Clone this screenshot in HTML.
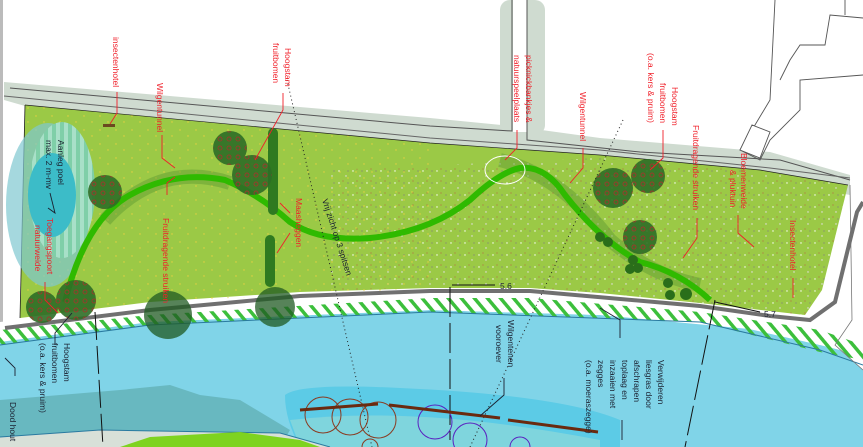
<!DOCTYPE html>
<html><head><meta charset="utf-8"><style>
html,body{margin:0;padding:0;background:#fff;}
svg{display:block}
text{font-family:"Liberation Sans",sans-serif;font-size:8.5px}
.r{fill:#f0202a}
.k{fill:#1a2030}
</style></head><body>
<svg width="863" height="447" viewBox="0 0 863 447" xmlns="http://www.w3.org/2000/svg">
<defs>
<pattern id="dots" width="14" height="12" patternUnits="userSpaceOnUse">
<circle cx="3" cy="3" r="0.7" fill="#fff"/><circle cx="10" cy="8" r="0.7" fill="#e8e0f0"/><circle cx="7" cy="1" r="0.5" fill="#c04040"/><circle cx="12" cy="3" r="0.5" fill="#7050a0"/>
</pattern>
<pattern id="ydots" width="16" height="14" patternUnits="userSpaceOnUse">
<circle cx="4" cy="4" r="0.7" fill="#e8d040"/><circle cx="12" cy="10" r="0.7" fill="#e8d040"/>
</pattern>
<pattern id="hatch" width="10" height="10" patternUnits="userSpaceOnUse" patternTransform="rotate(-40)">
<rect width="10" height="10" fill="none"/><rect width="3.5" height="10" fill="#3cbf3c"/>
</pattern>
<pattern id="tdots" width="9" height="9" patternUnits="userSpaceOnUse">
<circle cx="4" cy="4" r="2" fill="none" stroke="#9a3a2a" stroke-width="0.9"/>
</pattern>
<pattern id="pstripe" width="8" height="8" patternUnits="userSpaceOnUse">
<rect width="4" height="8" fill="#a8e0c8"/><rect x="4" width="4" height="8" fill="#7fcfa8"/>
</pattern>
</defs>
<rect width="863" height="447" fill="#fff"/>
<rect x="0" y="0" width="3" height="447" fill="#bbb"/>
<!-- gray verge top -->
<path d="M4,82 L430,118 L512,126 L527,128 L600,138 L770,152 L850,175 L850,195 L760,178 L430,146 L25,106 L4,100Z" fill="#cfdbd0"/>
<rect x="500" y="0" width="45" height="135" rx="10" fill="#cfdbd0"/>
<rect x="513" y="0" width="14" height="132" fill="#fff"/>
<path d="M10,88 L430,126 L512,131 L512,0 M527,0 L527,140 L640,152 L780,160 L850,180" fill="none" stroke="#555" stroke-width="1"/>
<path d="M4,96 L430,138 L600,150 L770,168 L850,178" fill="none" stroke="#666" stroke-width="1"/>
<!-- buildings right -->
<path d="M775,0 L770,100 L740,150 L760,160 L770,140 L800,110 L800,80 L863,75 M780,80 L790,60 L800,45 L825,45 L830,15 L863,18 M845,0 L845,15" fill="none" stroke="#555" stroke-width="0.9"/>
<path d="M740,150 L752,125 L770,132 L760,158Z" fill="#fff" stroke="#555" stroke-width="0.9"/>
<!-- water -->
<path d="M0,335 L150,322 L430,310 L600,315 L760,330 L840,350 L863,370 L863,447 L0,447Z" fill="#80d4e8"/>
<path d="M0,400 L120,390 L170,385 L200,395 L240,400 L290,430 L280,447 L0,447Z" fill="#68b8c0"/>
<path d="M285,395 Q300,383 400,388 Q560,395 620,420 L620,447 L300,447 Q285,420 285,395Z" fill="#5ccbe6"/>
<path d="M290,420 Q420,405 600,440 L600,447 L300,447Z" fill="#8fd8d8" opacity="0.7"/>
<path d="M0,437 L100,430 L280,433 L330,447 L0,447Z" fill="#d8e0d8"/>
<path d="M0,437 L100,430 L280,433 L330,447" fill="none" stroke="#2a7aa0" stroke-width="1"/>
<path d="M120,447 L150,437 L240,432 L300,440 L320,447Z" fill="#7ed320"/>
<!-- shore white band + hatch -->
<path d="M0,322 L150,305 L430,290 L530,292 L700,307 L810,322 L845,310 L863,215 L863,250 L850,310 L820,345 L700,318 L430,310 L150,322 L0,342Z" fill="#fff"/>
<path d="M0,330 L150,315 L430,298 L530,298 L700,312 L820,330 L863,345 L863,360 L820,352 L700,322 L430,312 L150,325 L0,345Z" fill="url(#hatch)"/>
<path d="M0,345 L150,325 L430,312 L700,322 L820,350 L863,365" fill="none" stroke="#2a7aa0" stroke-width="1"/>
<path d="M850,185 L852,320 L835,345 L863,370" fill="none" stroke="#777" stroke-width="0.8"/>
<!-- field -->
<path d="M25,105 L430,143 L600,155 L760,170 L848,185 L822,290 L805,315 L700,303 L600,293 L530,288 L430,288 L300,292 L150,302 L20,318Z" fill="#9bc946"/>
<path d="M330,170 L600,158 L760,172 L848,185 L822,290 L805,315 L700,303 L600,293 L530,288 L430,288 L330,290Z" fill="url(#dots)"/>
<path d="M25,105 L430,143 L430,288 L150,302 L20,318Z" fill="url(#ydots)"/>
<path d="M25,105 L430,143 L600,155 L760,170 L848,185" fill="none" stroke="#222" stroke-width="0.7"/>
<path d="M25,105 L20,318" fill="none" stroke="#222" stroke-width="0.8"/>
<!-- gray path -->
<path d="M5,328 L150,310 L300,296 L430,291 L530,291 L700,306 L770,316 L810,320 L835,302 L857,212 L863,202" fill="none" stroke="#707070" stroke-width="4"/>
<!-- pond -->
<ellipse cx="48" cy="205" rx="42" ry="82" fill="#7fc8d0" opacity="0.7"/>
<ellipse cx="62" cy="190" rx="33" ry="68" fill="url(#pstripe)"/>
<ellipse cx="52" cy="195" rx="24" ry="42" fill="#3cbcc8"/>
<!-- willow tunnels blurred -->
<path d="M105,220 Q160,160 230,183" fill="none" stroke="#5a9a30" stroke-width="14" opacity="0.45"/>
<path d="M500,160 Q560,175 610,240 Q650,275 700,285" fill="none" stroke="#5a9a30" stroke-width="14" opacity="0.45"/>
<!-- green path -->
<path d="M65,302 Q85,220 130,195 Q175,170 225,180 Q260,195 290,222 Q320,242 370,238 Q430,232 470,200 Q500,172 520,168 Q545,165 565,195 Q600,240 640,262 Q680,272 710,300" fill="none" stroke="#2fba00" stroke-width="6"/>
<ellipse cx="505" cy="170" rx="20" ry="14" fill="none" stroke="#fff" stroke-width="1"/>
<!-- hedges -->
<path d="M273,133 L273,210" stroke="#2f7a20" stroke-width="10" stroke-linecap="round"/>
<path d="M270,240 L270,282" stroke="#2f7a20" stroke-width="10" stroke-linecap="round"/>
<!-- trees -->
<g fill="#2e6e26" opacity="0.9">
<circle cx="105" cy="192" r="17"/><circle cx="230" cy="148" r="17"/><circle cx="252" cy="175" r="20"/>
<circle cx="42" cy="307" r="16"/><circle cx="76" cy="300" r="20"/>
<circle cx="613" cy="188" r="20"/><circle cx="648" cy="176" r="17"/><circle cx="640" cy="237" r="17"/>
</g>
<g fill="url(#tdots)">
<circle cx="105" cy="192" r="17"/><circle cx="230" cy="148" r="17"/><circle cx="252" cy="175" r="20"/>
<circle cx="42" cy="307" r="16"/><circle cx="76" cy="300" r="20"/>
<circle cx="613" cy="188" r="20"/><circle cx="648" cy="176" r="17"/><circle cx="640" cy="237" r="17"/>
</g>
<g fill="#1f5a22" opacity="0.75"><circle cx="168" cy="315" r="24"/><circle cx="275" cy="307" r="20"/></g>
<g fill="#2a6e1a"><circle cx="600" cy="237" r="5"/><circle cx="608" cy="242" r="5"/><circle cx="633" cy="260" r="5"/><circle cx="630" cy="269" r="5"/><circle cx="638" cy="268" r="5"/><circle cx="668" cy="283" r="5"/><circle cx="670" cy="295" r="5"/><circle cx="686" cy="294" r="6"/></g>
<rect x="103" y="124" width="12" height="3" fill="#6a4a20"/>
<!-- dashed / dotted lines -->
<path d="M95,312 L103,447" stroke="#111" stroke-width="1" stroke-dasharray="28,6" fill="none"/>
<path d="M450,287 L450,440" stroke="#111" stroke-width="1" stroke-dasharray="30,6" fill="none"/>
<path d="M715,300 L685,447" stroke="#111" stroke-width="1" stroke-dasharray="30,6" fill="none"/>
<path d="M287,80 L372,447" stroke="#222" stroke-width="1" stroke-dasharray="1,3" fill="none"/>
<path d="M623,120 L470,447" stroke="#222" stroke-width="1" stroke-dasharray="1,3" fill="none"/>
<path d="M452,285 L495,285 M715,302 L760,312" stroke="#111" stroke-width="1"/>
<text x="500" y="289" class="k" font-size="8">5.6</text>
<text x="764" y="317" class="k" font-size="8">5.7</text>
<!-- sticks and circles -->
<g fill="none" stroke="#8a3a20" stroke-width="1"><circle cx="323" cy="415" r="18"/><circle cx="350" cy="417" r="18"/><circle cx="378" cy="420" r="18"/><circle cx="370" cy="447" r="8"/></g>
<g fill="none" stroke="#5a20c0" stroke-width="1"><circle cx="435" cy="422" r="17"/><circle cx="470" cy="440" r="17"/><circle cx="520" cy="447" r="10"/></g>
<g stroke="#6a2a10" stroke-width="3"><path d="M300,410 L378,404"/><path d="M389,405 L500,418"/><path d="M508,420 L598,432"/></g>
<!-- leader lines red -->
<g stroke="#f0202a" stroke-width="0.9" fill="none">
<path d="M117,92 L117,113 L110,124"/><path d="M162,135 L162,158 L175,168"/><path d="M167,195 L167,183 L175,177"/>
<path d="M283,93 L283,110 L255,160"/><path d="M290,213 L280,203"/><path d="M290,233 L277,253"/>
<path d="M45,282 L45,300 L58,313"/><path d="M517,130 L517,148 L505,160"/><path d="M583,148 L583,168 L570,183"/>
<path d="M663,130 L663,158 L650,170"/><path d="M697,218 L697,238 L683,258"/><path d="M738,215 L738,233 L754,247"/><path d="M793,278 L793,298"/>
</g>
<g stroke="#1a2030" stroke-width="0.9" fill="none">
<path d="M50,193 L55,213 L48,208"/><path d="M55,345 L55,333 L72,313"/><path d="M15,376 L15,368 L5,358"/>
<path d="M504,378 L504,395 L480,416"/><path d="M620,338 L620,320 L600,308"/><path d="M622,420 L622,440"/>
</g>
<!-- labels (rotated 90) -->
<g class="r">
<text transform="translate(113,37) rotate(90)">insectenhotel</text>
<text transform="translate(157,83) rotate(90)">Wilgentunnel</text>
<text transform="translate(285,48) rotate(90)">Hoogstam</text>
<text transform="translate(273,43) rotate(90)">fruitbomen</text>
<text transform="translate(296,198) rotate(90)">Maasheggen</text>
<text transform="translate(163,218) rotate(90)">Fruitdragende struiken</text>
<text transform="translate(47,218) rotate(90)">Toegangspoort</text>
<text transform="translate(35,225) rotate(90)">natuurweide</text>
<text transform="translate(526,55) rotate(90)">picknickbankjes &amp;</text>
<text transform="translate(514,55) rotate(90)">natuurspeelplaats</text>
<text transform="translate(580,92) rotate(90)">Wilgentunnel</text>
<text transform="translate(672,87) rotate(90)">Hoogstam</text>
<text transform="translate(660,83) rotate(90)">fruitbomen</text>
<text transform="translate(648,53) rotate(90)">(o.a. kers &amp; pruim)</text>
<text transform="translate(693,125) rotate(90)">Fruitdragende struiken</text>
<text transform="translate(741,153) rotate(90)">Bloemenweide</text>
<text transform="translate(730,170) rotate(90)">&amp; pluktuin</text>
<text transform="translate(790,220) rotate(90)">Insectenhotel</text>
</g>
<g class="k">
<text transform="translate(58,140) rotate(90)">Aanleg poel</text>
<text transform="translate(46,140) rotate(90)">max. 2 m-mv</text>
<text transform="translate(322,200) rotate(72)">Vrij zicht op 3 spitsen</text>
<text transform="translate(64,343) rotate(90)">Hoogstam</text>
<text transform="translate(52,343) rotate(90)">fruitbomen</text>
<text transform="translate(40,343) rotate(90)">(o.a. kers &amp; pruim)</text>
<text transform="translate(10,402) rotate(90)">Dood hout</text>
<text transform="translate(508,320) rotate(90)">Wilgentenen</text>
<text transform="translate(496,325) rotate(90)">vooroever</text>
<text transform="translate(658,360) rotate(90)">Verwijderen</text>
<text transform="translate(646,360) rotate(90)">liesgras door</text>
<text transform="translate(634,360) rotate(90)">afschrapen</text>
<text transform="translate(622,360) rotate(90)">toplaag en</text>
<text transform="translate(610,360) rotate(90)">inzaaien met</text>
<text transform="translate(598,360) rotate(90)">zegges</text>
<text transform="translate(586,360) rotate(90)">(o.a. moeraszegge)</text>
</g>
</svg>
</body></html>
